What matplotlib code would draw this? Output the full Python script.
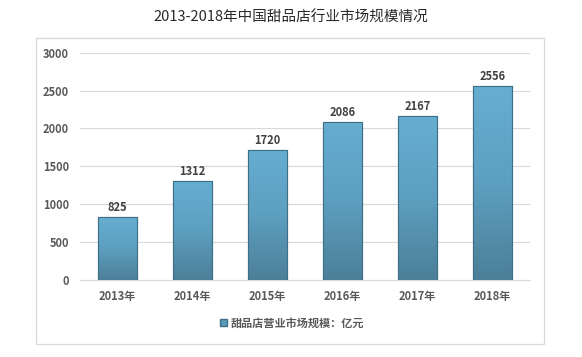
import numpy as np
import matplotlib.pyplot as plt
from matplotlib.patches import Rectangle
from matplotlib.colors import LinearSegmentedColormap

plt.rcParams['font.family'] = ['Noto Sans CJK SC', 'DejaVu Sans']

years = ['2013年', '2014年', '2015年', '2016年', '2017年', '2018年']
values = [825, 1312, 1720, 2086, 2167, 2556]
yticks = [0, 500, 1000, 1500, 2000, 2500, 3000]
title = '2013-2018年中国甜品店行业市场规模情况'
legend_label = '甜品店营业市场规模：亿元'

W, H = 582, 357
fig = plt.figure(figsize=(W / 100, H / 100), dpi=100)

# 外框
fig.patches.append(Rectangle((36 / W, 1 - 344 / H), 508 / W, 306 / H,
                             transform=fig.transFigure, fill=False,
                             edgecolor='#d9d9d9', linewidth=0.9))

fig.text(0.5, 1 - 18 / H, title, ha='center', va='center',
         fontsize=10.5, color='#2a2a2a')

ax = fig.add_axes([80 / W, 1 - 280 / H, 450 / W, 227.3 / H])
x = np.arange(len(years))
bars = ax.bar(x, values, width=0.51, color='#5a9cbd', edgecolor='#3f6f87',
              linewidth=0.8, zorder=3, label=legend_label)

# 渐变填充
cmap = LinearSegmentedColormap.from_list('g', ['#4c7f98', '#5d9fc0', '#66aed1'])
grad = np.linspace(0, 1, 256).reshape(-1, 1)
for b in bars:
    x0, y0 = b.get_x(), b.get_y()
    w, h = b.get_width(), b.get_height()
    im = ax.imshow(grad, cmap=cmap, origin='lower', aspect='auto',
                   extent=[x0, x0 + w, y0, y0 + h], zorder=3.5)
    im.set_clip_path(b)
    ax.add_patch(Rectangle((x0, y0), w, h, fill=False, edgecolor='#3f6f87',
                           linewidth=0.8, zorder=4))

for xi, v in zip(x, values):
    ax.text(xi, v + 40, str(v), ha='center', va='bottom', fontsize=8,
            fontweight='bold', color='#404040')

ax.set_xlim(-0.5, len(years) - 0.5)
ax.set_ylim(0, 3000)
ax.set_yticks(yticks)
ax.set_xticks(x)
ax.set_xticklabels(years)
ax.grid(axis='y', color='#d9d9d9', linewidth=0.8, zorder=0)
for s in ['top', 'right', 'left']:
    ax.spines[s].set_visible(False)
ax.spines['bottom'].set_color('#d9d9d9')
ax.tick_params(length=0, labelsize=8, colors='#595959')
ax.tick_params(axis='y', pad=8)
ax.tick_params(axis='x', pad=7)
for lab in ax.get_xticklabels() + ax.get_yticklabels():
    lab.set_fontweight('bold')

leg = fig.legend(handles=[Rectangle((0, 0), 1, 1, facecolor='#5a9cbd',
                                    edgecolor='#3f6f87')],
                 labels=[legend_label], loc='center',
                 bbox_to_anchor=(292 / W, 1 - 323 / H), frameon=False,
                 handlelength=0.6, handleheight=0.6, handletextpad=0.3,
                 prop={'size': 8, 'weight': 'bold'})
for t in leg.get_texts():
    t.set_color('#595959')

fig.savefig('out.png', dpi=100)
